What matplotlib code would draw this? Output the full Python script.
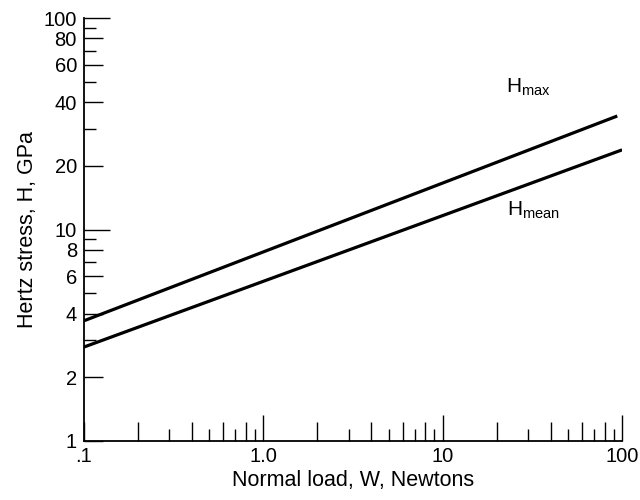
import matplotlib
matplotlib.use('Agg')
import matplotlib.pyplot as plt

# --- Data ---
load_max = [0.1, 94.0]        # Newtons
h_max = [3.7, 34.4]           # GPa
load_mean = [0.1, 100.0]
h_mean = [2.78, 23.8]

x_labeled = [0.1, 1.0, 10, 100]
x_labels = ['.1', '1.0', '10', '100']
y_labeled = [1, 2, 4, 6, 8, 10, 20, 40, 60, 80, 100]
y_labels = ['1', '2', '4', '6', '8', '10', '20', '40', '60', '80', '100']

plt.rcParams['font.family'] = ['Liberation Sans', 'DejaVu Sans']

fig = plt.figure(figsize=(6.4, 5.0), dpi=100)
ax = fig.add_axes([0.131, 0.118, 0.841, 0.846])

ax.plot(load_max, h_max, color='black', linewidth=2.3, solid_capstyle='butt')
ax.plot(load_mean, h_mean, color='black', linewidth=2.3, solid_capstyle='butt')

ax.set_xscale('log')
ax.set_yscale('log')
ax.set_xlim(0.1, 100)
ax.set_ylim(1, 100)

ax.spines['top'].set_visible(False)
ax.spines['right'].set_visible(False)
ax.spines['left'].set_linewidth(1.3)
ax.spines['bottom'].set_linewidth(1.3)

# --- X ticks (inward) ---
x_major = [0.1, 0.2, 0.4, 0.6, 0.8, 1, 2, 4, 6, 8, 10, 20, 40, 60, 80, 100]
x_minor = [0.3, 0.5, 0.7, 0.9, 3, 5, 7, 9, 30, 50, 70, 90]
x_major_lab = [x_labels[x_labeled.index(v)] if v in x_labeled else '' for v in x_major]
ax.set_xticks(x_major)
ax.set_xticklabels(x_major_lab)
ax.set_xticks(x_minor, minor=True)
ax.set_xticklabels([], minor=True)

# --- Y ticks (inward) ---
y_minor = [3, 5, 7, 9, 30, 50, 70, 90]
ax.set_yticks(y_labeled)
ax.set_yticklabels(y_labels)
ax.set_yticks(y_minor, minor=True)
ax.set_yticklabels([], minor=True)

ax.tick_params(which='major', direction='in', length=13.5, width=1.0,
               labelsize=14.5, pad=5)
ax.tick_params(which='minor', direction='in', length=8.5, width=1.0)
ax.tick_params(axis='x', which='major', pad=4)

# longer ticks at decades
for t, v in zip(ax.xaxis.get_major_ticks(), x_major):
    if v in (1, 10, 100):
        t.tick1line.set_markersize(18.5)
for t, v in zip(ax.yaxis.get_major_ticks(), y_labeled):
    if v in (10, 100):
        t.tick1line.set_markersize(18.5)

ax.set_xlabel('Normal load, W, Newtons', fontsize=15.5, labelpad=3)
ax.set_ylabel('Hertz stress, H, GPa', fontsize=15.5, labelpad=4)

ax.text(30, 47, r'H$_{\mathregular{max}}$', fontsize=15, ha='center', va='center')
ax.text(32, 12.4, r'H$_{\mathregular{mean}}$', fontsize=15, ha='center', va='center')

fig.savefig('out.png', dpi=100)
